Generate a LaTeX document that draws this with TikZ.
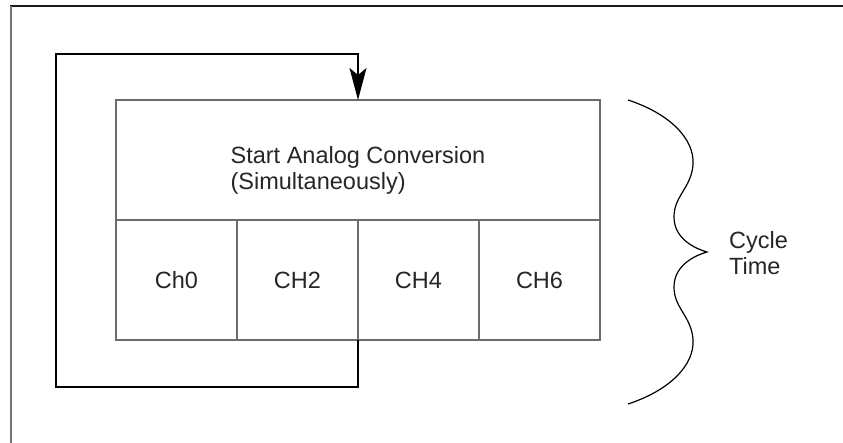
\documentclass[tikz,border=0pt]{standalone}
\usepackage{fontspec}
\setmainfont{Liberation Sans}
\usetikzlibrary{arrows.meta}
\definecolor{boxgray}{gray}{0.42}
\definecolor{framegray}{gray}{0.45}
\begin{document}
\begin{tikzpicture}[x=1pt,y=-1pt,
  txt/.style={font=\fontsize{23.5}{26.5}\selectfont, text=black!85, inner sep=0pt},
  headbox/.style={draw=boxgray, line width=1.8pt, minimum width=484pt, minimum height=120pt, inner sep=0pt, outer sep=0pt},
  cell/.style={draw=boxgray, line width=1.8pt, minimum width=121pt, minimum height=120pt, inner sep=0pt, outer sep=0pt, txt},
  loopline/.style={draw=black, line width=1.4pt},
  brace/.style={draw=black, line width=1.2pt}
]
\useasboundingbox (0,0) rectangle (843,443);

% frame (top and left edges only)
\draw[black!90, line width=2pt] (10,6) -- (843,6);
\draw[framegray, line width=2pt] (11,6) -- (11,443);

% conversion block and channel cells
\node[headbox] (start) at (358,160) {};
\node[txt, align=left, anchor=base] (startlbl) at (358,190) {Start Analog Conversion\\(Simultaneously)};
\node[cell] (ch0) at (176.5,280) {Ch0};
\node[cell] (ch2) at (297.5,280) {CH2};
\node[cell] (ch4) at (418.5,280) {CH4};
\node[cell] (ch6) at (539.5,280) {CH6};

% feedback loop from CH2 back to the start of the cycle
\coordinate (lb) at (358,387);
\coordinate (lbl) at (56,387);
\coordinate (ltl) at (56,54);
\coordinate (lt) at (358,54);
\draw[loopline, -{Stealth[length=32pt, width=17pt, inset=7pt]}]
  (ch2.south east) -- (lb) -- (lbl) -- (ltl) -- (lt) -- (start.north);

% brace spanning the cycle
\coordinate (btop) at (628,100);
\coordinate (btip) at (707,252);
\coordinate (bbot) at (628,404);
\draw[brace] (btop)
  .. controls (668,113) and (695,138) .. (693,165)
  .. controls (691,188) and (674,196) .. (674,217)
  .. controls (674,236) and (690,247) .. (btip)
  .. controls (690,257) and (674,268) .. (674,287)
  .. controls (674,308) and (691,316) .. (693,339)
  .. controls (695,366) and (668,391) .. (bbot);
\node[txt, align=left, anchor=base west] (cycle) at (729,275) {Cycle\\Time};
\end{tikzpicture}
\end{document}
